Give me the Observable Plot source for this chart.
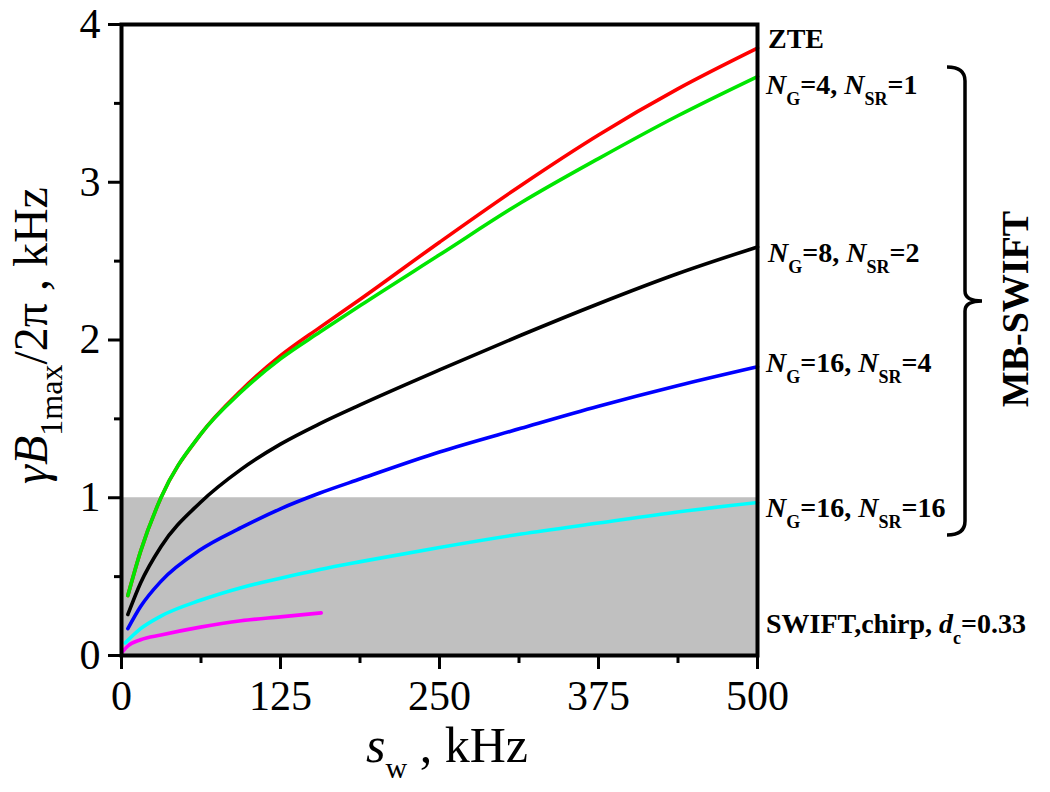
<!DOCTYPE html>
<html>
<head>
<meta charset="utf-8">
<script src="https://cdn.jsdelivr.net/npm/d3@7"></script>
<script src="https://cdn.jsdelivr.net/npm/@observablehq/plot@0.6"></script>
<style>
  html, body { margin: 0; padding: 0; background: #fff; }
  #chart { width: 1050px; height: 792px; }
</style>
</head>
<body>
<div id="chart"></div>
<script>
// ---- data ----
const sw       = [5, 15, 31, 62, 94, 125, 156, 188, 250, 314, 375, 437, 500];
const zte      = [0.38, 0.66, 1.00, 1.40, 1.68, 1.90, 2.08, 2.26, 2.62, 2.98, 3.30, 3.59, 3.85];
const ng4sr1   = [0.38, 0.66, 1.00, 1.40, 1.67, 1.88, 2.05, 2.22, 2.54, 2.87, 3.15, 3.42, 3.67];
const ng8sr2   = [0.26, 0.46, 0.69, 0.97, 1.18, 1.34, 1.47, 1.59, 1.81, 2.03, 2.23, 2.42, 2.59];
const ng16sr4  = [0.17, 0.31, 0.47, 0.67, 0.81, 0.93, 1.03, 1.12, 1.29, 1.44, 1.58, 1.71, 1.83];
const swCyan   = [3, 15, 31, 62, 94, 125, 156, 188, 250, 314, 375, 437, 500];
const ng16sr16 = [0.08, 0.17, 0.25, 0.35, 0.43, 0.49, 0.545, 0.595, 0.685, 0.77, 0.84, 0.91, 0.97];
const swChirp  = [0.5, 5, 15, 31, 62, 94, 125, 157];
const swift    = [0.02, 0.06, 0.10, 0.13, 0.18, 0.22, 0.245, 0.27];

const seriesNames  = ["ZTE", "N_G=4, N_SR=1", "N_G=8, N_SR=2", "N_G=16, N_SR=4", "N_G=16, N_SR=16", "SWIFT,chirp, d_c=0.33"];
const seriesColors = ["#ff0000", "#00e600", "#000000", "#0000ff", "#00ffff", "#ff00ff"];
const xTicks      = [0, 125, 250, 375, 500];
const xMinorTicks = [62.5, 187.5, 312.5, 437.5];
const yTicks      = [0, 1, 2, 3, 4];
const yMinorTicks = [0.5, 1.5, 2.5, 3.5];
const lowFieldLimit = 1;          // shaded region upper bound, kHz
const groupLabel = "MB-SWIFT";

const seriesX = [sw, sw, sw, sw, swCyan, swChirp];
const seriesY = [zte, ng4sr1, ng8sr2, ng16sr4, ng16sr16, swift];
const rows = [];
seriesY.forEach((ys, i) => ys.forEach((v, j) => rows.push({s: seriesNames[i], x: seriesX[i][j], y: v})));
const shade = [{x1: xTicks[0], x2: xTicks[xTicks.length - 1], y1: 0, y2: lowFieldLimit}];

const FONT = "'Liberation Serif', 'Times New Roman', Times, serif";

const chart = Plot.plot({
  width: 1050,
  height: 792,
  marginLeft: 121,
  marginRight: 293,
  marginTop: 24,
  marginBottom: 137,
  style: {fontFamily: FONT, color: "#000"},
  x: {domain: [0, 500]},
  y: {domain: [0, 4]},
  color: {domain: seriesNames, range: seriesColors},
  marks: [
    Plot.rect(shade, {x1: "x1", x2: "x2", y1: "y1", y2: "y2", fill: "#c0c0c0"}),
    Plot.line(rows, {x: "x", y: "y", z: "s", stroke: "s", strokeWidth: 3.6, curve: "monotone-x"}),
    Plot.axisX({ticks: xTicks, tickSize: 14, tickPadding: 11, strokeWidth: 3, fontSize: 42, label: null, tickFormat: d => String(d)}),
    Plot.axisX({ticks: xMinorTicks, tickSize: 8, strokeWidth: 3, text: null, label: null}),
    Plot.axisY({ticks: yTicks, tickSize: 13, tickPadding: 8, strokeWidth: 3, fontSize: 42, label: null, tickFormat: d => String(d)}),
    Plot.axisY({ticks: yMinorTicks, tickSize: 7, strokeWidth: 3, text: null, label: null}),
    Plot.frame({stroke: "#000", fill: "none", strokeWidth: 4})
  ]
});
chart.style.background = "#fff";
document.getElementById("chart").appendChild(chart);

const X = chart.scale("x"), Y = chart.scale("y");
const svg = d3.select(chart);
const ann = svg.append("g").attr("font-family", FONT).attr("fill", "#000").attr("text-anchor", "start");

// rich label: char before "_" italic, text after "_" as subscript
function rich(textSel, str, subSize, subShift, italicBase) {
  const re = /([A-Za-z])_([A-Za-z0-9]+)/g;
  let last = 0, m, pending = 0;
  const plain = s => { const t = textSel.append("tspan").text(s); if (pending) { t.attr("dy", -pending); pending = 0; } };
  while ((m = re.exec(str)) !== null) {
    if (m.index > last) plain(str.slice(last, m.index));
    const b = textSel.append("tspan").attr("font-style", italicBase ? "italic" : null).text(m[1]);
    if (pending) { b.attr("dy", -pending); pending = 0; }
    textSel.append("tspan").attr("font-size", subSize).attr("dy", subShift).text(m[2]);
    pending = subShift;
    last = re.lastIndex;
  }
  if (last < str.length) plain(str.slice(last));
}

// right side series labels
const ends = seriesY.map(a => a[a.length - 1]);
const labelDy = [0, 18, 16, 6, 15, 0];
const labelDx = [11, 9, 11, 9, 9, 9];
seriesNames.forEach((name, i) => {
  const yy = i === 5 ? Y.apply(0) - 22 : Y.apply(ends[i]) + labelDy[i];
  const t = ann.append("text")
    .attr("x", X.apply(500) + labelDx[i]).attr("y", yy)
    .attr("font-size", 28).attr("font-weight", "bold");
  rich(t, name, 18, 11, true);
});

// y axis label
const yl = ann.append("text")
  .attr("transform", `translate(47,${(Y.apply(4) + Y.apply(0)) / 2 - 4}) rotate(-90)`)
  .attr("text-anchor", "middle").attr("font-size", 48);
yl.append("tspan").attr("font-style", "italic").text("\u03B3B");
yl.append("tspan").attr("font-size", 32).attr("dy", 15).text("1max");
yl.append("tspan").attr("dy", -15).text("/2\u03C0 , kHz");

// x axis label
const xl = ann.append("text")
  .attr("x", (X.apply(0) + X.apply(500)) / 2 + 8).attr("y", 762)
  .attr("text-anchor", "middle").attr("font-size", 50);
xl.append("tspan").attr("font-style", "italic").text("s");
xl.append("tspan").attr("font-size", 30).attr("dy", 16).text("w");
xl.append("tspan").attr("dy", -16).text(" , kHz");

// curly bracket grouping the MB-SWIFT series
const bx = X.apply(500) + 208;
const bTop = Y.apply(ends[1]) - 9;
const bBot = Y.apply(ends[4]) + 33;
const bMid = (bTop + bBot) / 2;
ann.append("path")
  .attr("d", `M${bx - 18},${bTop} Q${bx},${bTop} ${bx},${bTop + 14} L${bx},${bMid - 10} Q${bx},${bMid} ${bx + 17},${bMid} Q${bx},${bMid} ${bx},${bMid + 10} L${bx},${bBot - 14} Q${bx},${bBot} ${bx - 18},${bBot}`)
  .attr("fill", "none").attr("stroke", "#000").attr("stroke-width", 3.5);

ann.append("text")
  .attr("transform", `translate(${bx + 63},${bMid + 8}) rotate(-90)`)
  .attr("text-anchor", "middle").attr("font-size", 38).attr("font-weight", "bold")
  .text(groupLabel);
</script>
</body>
</html>
